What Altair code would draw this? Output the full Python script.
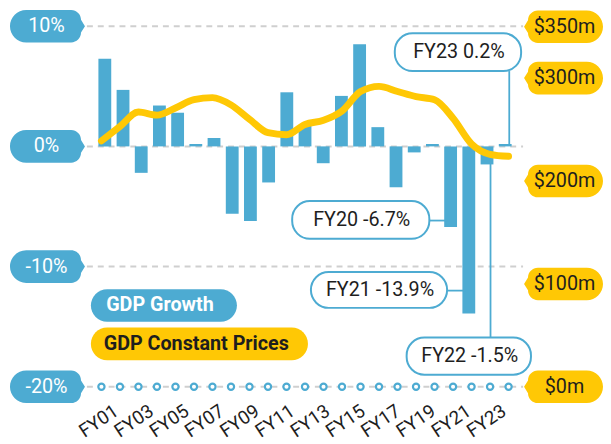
import altair as alt
import pandas as pd

# ---------------- data ----------------
years = ["FY01", "FY02", "FY03", "FY04", "FY05", "FY06", "FY07", "FY08", "FY09", "FY10",
         "FY11", "FY12", "FY13", "FY14", "FY15", "FY16", "FY17", "FY18", "FY19", "FY20",
         "FY21", "FY22", "FY23"]
growth = [7.3, 4.7, -2.2, 3.4, 2.8, 0.2, 0.7, -5.6, -6.2, -3.0,
          4.5, 1.7, -1.4, 4.2, 8.5, 1.6, -3.4, -0.5, 0.2, -6.7,
          -13.9, -1.5, 0.2]
gdp = [239, 253, 267, 264, 271, 279, 281, 274, 260, 247,
       245, 255, 259, 268, 287, 292, 287, 282, 279, 261,
       236, 226, 224]
pct_ticks = [10, 0, -10, -20]
pct_labels = ["10%", "0%", "-10%", "-20%"]
usd_ticks = [350, 300, 200, 100, 0]
usd_labels = ["$350m", "$300m", "$200m", "$100m", "$0m"]
callout_years = ["FY23", "FY20", "FY21", "FY22"]
legend_labels = ["GDP Growth", "GDP Constant Prices"]

# ---------------- style ----------------
BLUE = "#4DABD2"
YELLOW = "#FFC805"
GRID = "#CFCFCF"
INK = "#1e1e1e"
FONT = "Roboto"
W, H = 603, 434

X_DOM = [-4.049, 28.102]
XL_DOM = [-4.150, 29.605]
PCT_DOM = [-24.350, 11.272]
USD_DOM = [-50.82, 365.34]

xs = alt.Scale(domain=X_DOM, nice=False, zero=False)
xls = alt.Scale(domain=XL_DOM, nice=False, zero=False)
ps = alt.Scale(domain=PCT_DOM, nice=False, zero=False)
us = alt.Scale(domain=USD_DOM, nice=False, zero=False)


def bubble(hw, mirror=False):
    """Speech-bubble pill path, half width hw px, height 33 px, unit-normalised."""
    k = 0.5523
    s = -1 if mirror else 1

    def p(x, y):
        return f"{s * x / hw:.4f} {y / hw:.4f}"
    r, R, h = 10.0, 16.5, 16.5
    L = -hw + R          # centre of left semicircle
    B = hw - 4           # right edge of body
    C = B - r            # start of right rounded corner
    e = h - r
    return (
        f"M {p(L, -h)} L {p(C, -h)} "
        f"C {p(C + k * r, -h)} {p(B, -e - k * r)} {p(B, -e)} "
        f"L {p(hw, 0)} L {p(B, e)} "
        f"C {p(B, e + k * r)} {p(C + k * r, h)} {p(C, h)} "
        f"L {p(L, h)} "
        f"C {p(L - k * R, h)} {p(-hw, k * R)} {p(-hw, 0)} "
        f"C {p(-hw, -k * R)} {p(L - k * R, -h)} {p(L, -h)} Z"
    )


LHW, RHW = 38.0, 40.0
LEFT_PATH = bubble(LHW)
RIGHT_PATH = bubble(RHW, mirror=True)

df = pd.DataFrame({"year": years, "idx": list(range(1, len(years) + 1)),
                   "growth": growth, "gdp": gdp})
pct_df = pd.DataFrame({"v": pct_ticks, "label": pct_labels})
usd_df = pd.DataFrame({"v": usd_ticks, "label": usd_labels})

g = dict(zip(years, growth))
call_text = [f"{y} {g[y]:.1f}%" for y in callout_years]
# callout box geometry (pixels in the view)
box_df = pd.DataFrame({
    "text": call_text,
    "x": [392, 288, 307, 404], "x2": [520, 427, 445, 530],
    "y": [22.7, 192.7, 264.7, 331], "y2": [61, 231, 301, 368.7],
})
box_df["tx"] = (box_df["x"] + box_df["x2"]) / 2 + 1
box_df["ty"] = (box_df["y"] + box_df["y2"]) / 2
conn_df = pd.DataFrame({
    "x": [508, 489, 427, 445], "x2": [508, 489, 445, 464],
    "y": [61, 155, 212.5, 283.5], "y2": [135, 331, 212.5, 283.5],
})
leg_df = pd.DataFrame({
    "label": legend_labels,
    "x": [84, 84], "x2": [232, 304], "y": [282, 321], "y2": [315, 354],
    "tx": [99.5, 97], "fill": [BLUE, YELLOW], "tc": ["white", INK],
})

X = alt.X("idx:Q", scale=xs, axis=None)

grid = alt.Chart(pct_df).mark_rule(strokeDash=[6, 5], color=GRID, strokeWidth=2).encode(
    x=alt.value(80), x2=alt.value(522), y=alt.Y("v:Q", scale=ps, axis=None))

bars = alt.Chart(df).mark_bar(width=13, color=BLUE).encode(
    x=X, y=alt.Y("growth:Q", scale=ps, axis=None), y2=alt.datum(0))

dots = alt.Chart(df).transform_calculate(floor="-20").mark_point(
    shape="circle", filled=True, fill="white", stroke=BLUE, strokeWidth=2.2,
    size=40, opacity=1).encode(x=X, y=alt.Y("floor:Q", scale=ps, axis=None))

line = alt.Chart(df).mark_line(color=YELLOW, strokeWidth=7, strokeCap="round",
                               strokeJoin="round", interpolate="monotone").encode(
    x=X, y=alt.Y("gdp:Q", scale=us, axis=None))

conn = alt.Chart(conn_df).mark_rule(color=BLUE, strokeWidth=1.8).encode(
    x=alt.X("x:Q", scale=None), x2="x2:Q",
    y=alt.Y("y:Q", scale=None), y2="y2:Q")

boxes = alt.Chart(box_df).mark_rect(fill="white", stroke=BLUE, strokeWidth=2,
                                    cornerRadius=18).encode(
    x=alt.X("x:Q", scale=None), x2="x2:Q",
    y=alt.Y("y:Q", scale=None), y2="y2:Q")

box_text = alt.Chart(box_df).mark_text(font=FONT, fontSize=20, color=INK,
                                       align="center", baseline="middle").encode(
    x=alt.X("tx:Q", scale=None), y=alt.Y("ty:Q", scale=None), text="text:N")

lb = alt.Chart(pct_df).mark_point(shape=LEFT_PATH, size=(2 * LHW) ** 2, filled=True,
                                  color=BLUE, opacity=1, strokeWidth=0).encode(
    x=alt.value(40), y=alt.Y("v:Q", scale=ps, axis=None))
lt = alt.Chart(pct_df).mark_text(font=FONT, fontSize=20, color="white",
                                 align="center", baseline="middle").encode(
    x=alt.value(39), y=alt.Y("v:Q", scale=ps, axis=None), text="label:N")

rb = alt.Chart(usd_df).mark_point(shape=RIGHT_PATH, size=(2 * RHW) ** 2, filled=True,
                                  color=YELLOW, opacity=1, strokeWidth=0).encode(
    x=alt.value(563), y=alt.Y("v:Q", scale=us, axis=None))
rt = alt.Chart(usd_df).mark_text(font=FONT, fontSize=20, color=INK,
                                 align="center", baseline="middle").encode(
    x=alt.value(564), y=alt.Y("v:Q", scale=us, axis=None), text="label:N")

leg = alt.Chart(leg_df).mark_rect(cornerRadius=16.5).encode(
    x=alt.X("x:Q", scale=None), x2="x2:Q",
    y=alt.Y("y:Q", scale=None), y2="y2:Q",
    fill=alt.Fill("fill:N", scale=None))
leg_text = alt.Chart(leg_df).mark_text(font=FONT, fontSize=20, fontWeight="bold",
                                       align="left", baseline="middle").encode(
    x=alt.X("tx:Q", scale=None),
    y=alt.Y("ty:Q", scale=None),
    text="label:N", color=alt.Color("tc:N", scale=None)).transform_calculate(
    ty="(datum.y + datum.y2) / 2")

xlab = alt.Chart(df).transform_filter("datum.idx % 2 == 1").transform_calculate(
    ly="-22.85").mark_text(font=FONT, fontSize=19, angle=326, color=INK,
                           align="center", baseline="middle").encode(
    x=alt.X("idx:Q", scale=xls, axis=None),
    y=alt.Y("ly:Q", scale=ps, axis=None), text="year:N")

chart = alt.layer(
    grid, bars, dots, line, conn, boxes, box_text, lb, lt, rb, rt, leg, leg_text, xlab
).resolve_scale(x="independent", y="independent", color="independent",
                fill="independent").properties(
    width=W, height=H, autosize=alt.AutoSizeParams(type="none"), padding=0,
    background="white"
).configure_view(stroke=None)

chart.save("out.html", embed_options={"renderer": "svg", "actions": False})
